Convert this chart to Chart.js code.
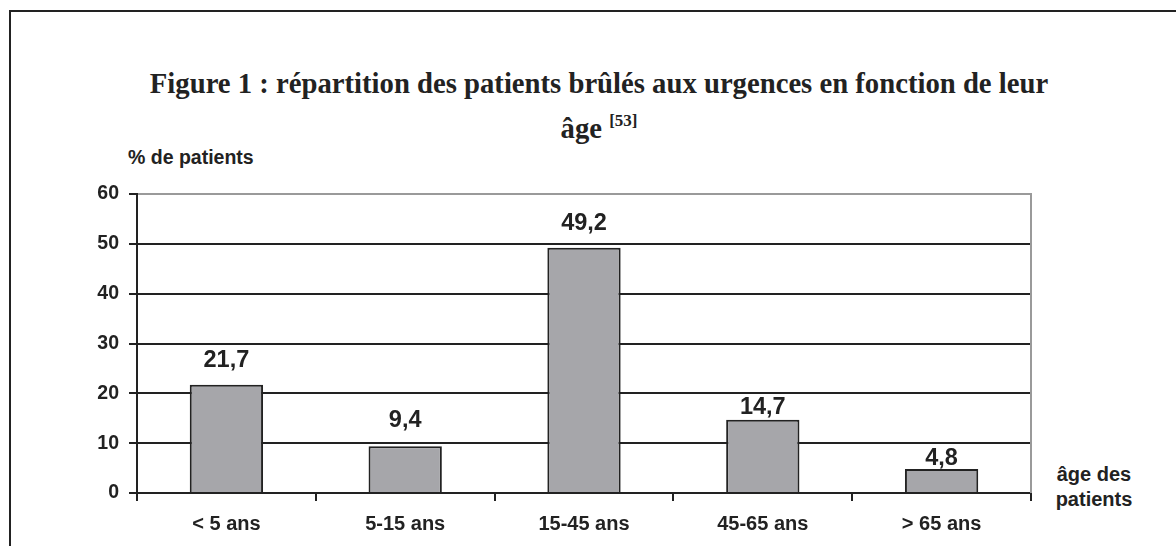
<!DOCTYPE html>
<html>
<head>
<meta charset="utf-8">
<script src="https://cdn.jsdelivr.net/npm/chart.js@4/dist/chart.umd.min.js"></script>
<style>
  html, body { margin: 0; padding: 0; background: #fff; width: 1176px; height: 546px; overflow: hidden; }
  #frame { position: absolute; left: 9px; top: 10px; width: 1400px; height: 800px; border: 2.5px solid #222; box-sizing: border-box; }
  #title { position: absolute; left: 0; width: 1198px; top: 61px; text-align: center; font-family: "Liberation Serif", "Times New Roman", serif; font-weight: bold; font-size: 28.7px; line-height: 45px; color: #222; }
  #title sup { font-size: 17px; vertical-align: 0; position: relative; top: -12px; }
  #ylab { position: absolute; left: 128px; top: 146px; font-family: "Liberation Sans", Arial, sans-serif; font-weight: bold; font-size: 19.5px; color: #222; }
  #xlab { position: absolute; left: 1044px; width: 100px; top: 462px; text-align: center; font-family: "Liberation Sans", Arial, sans-serif; font-weight: bold; font-size: 20px; line-height: 25px; color: #222; }
  canvas { position: absolute; left: 0; top: 0; }
</style>
</head>
<body>
<div id="frame"></div>
<div id="title">Figure 1 : répartition des patients brûlés aux urgences en fonction de leur<br>âge <sup>[53]</sup></div>
<div id="ylab">% de patients</div>
<div id="xlab">âge des<br>patients</div>
<canvas id="c" width="1176" height="546"></canvas>
<script>
const categories = ["< 5 ans", "5-15 ans", "15-45 ans", "45-65 ans", "> 65 ans"];
const percentPatients = [21.7, 9.4, 49.2, 14.7, 4.8];
const yTicks = [0, 10, 20, 30, 40, 50, 60];

const FONT = '"Liberation Sans", Arial, sans-serif';
const labelGaps = [18, 19, 18, 6, 4];

const decorPlugin = {
  id: 'decor',
  afterDatasetsDraw(chart) {
    const ctx = chart.ctx;
    const area = chart.chartArea;
    ctx.save();
    ctx.strokeStyle = '#9a9a9a';
    ctx.lineWidth = 2;
    ctx.beginPath();
    ctx.moveTo(area.right, area.top - 1);
    ctx.lineTo(area.right, area.bottom);
    ctx.stroke();
    const meta = chart.getDatasetMeta(0);
    ctx.fillStyle = '#222';
    ctx.font = 'bold 23.5px ' + FONT;
    ctx.textAlign = 'center';
    ctx.textBaseline = 'alphabetic';
    meta.data.forEach((bar, i) => {
      const v = chart.data.datasets[0].data[i];
      const txt = v.toFixed(1).replace('.', ',');
      ctx.fillText(txt, bar.x, bar.y - labelGaps[i]);
    });
    ctx.restore();
  }
};

new Chart(document.getElementById('c'), {
  type: 'bar',
  data: {
    labels: categories,
    datasets: [{
      data: percentPatients,
      backgroundColor: '#a6a6aa',
      borderColor: '#222',
      borderWidth: 2,
      borderSkipped: 'bottom',
      categoryPercentage: 1,
      barPercentage: 0.41
    }]
  },
  options: {
    responsive: false,
    animation: false,
    devicePixelRatio: 1,
    layout: { padding: { left: 0, top: 194, right: 145, bottom: 0 } },
    plugins: { legend: { display: false }, tooltip: { enabled: false }, title: { display: false } },
    scales: {
      y: {
        min: 0, max: 60,
        afterBuildTicks(scale) { scale.ticks = yTicks.map(v => ({ value: v })); },
        afterFit(scale) { scale.width = 137; },
        ticks: { color: '#222', font: { family: FONT, weight: 'bold', size: 19.5 }, padding: 10 },
        grid: {
          color: (c) => (c.tick && c.tick.value === 60 ? '#9a9a9a' : '#222'),
          tickColor: '#222',
          lineWidth: 2,
          tickLength: 8
        },
        border: { color: '#222', width: 2 }
      },
      x: {
        afterFit(scale) { scale.height = 546 - 493; },
        ticks: { color: '#222', font: { family: FONT, weight: 'bold', size: 20 }, padding: 11 },
        grid: { offset: true, drawOnChartArea: false, color: '#222', lineWidth: 2, tickLength: 8 },
        border: { color: '#222', width: 2 }
      }
    }
  },
  plugins: [decorPlugin]
});
</script>
</body>
</html>
